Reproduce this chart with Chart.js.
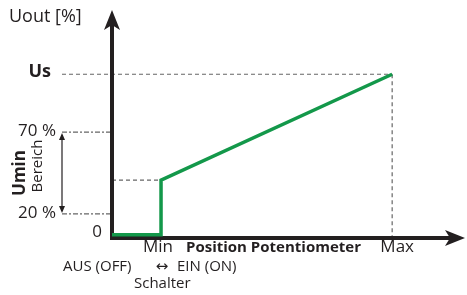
<!DOCTYPE html>
<html>
<head>
<meta charset="utf-8">
<script src="https://cdn.jsdelivr.net/npm/chart.js@4"></script>
<style>
  html, body { margin: 0; padding: 0; background: #fff; }
  #wrap { width: 467px; height: 295px; }
</style>
</head>
<body>
<div id="wrap"><canvas id="potChart" width="467" height="295"></canvas></div>
<script>
// positions on the potentiometer axis (schematic units)
const posNames = ['Min', 'Max'];
const posValues = [17.5, 100];

// output curve Uout (schematic units, Us = 100)
const curveX = [0, 17.5, 17.5, 100];
const curveY = [0, 0, 34, 100];

// y reference levels and their labels
const levelValues = [0, 13, 64, 100];
const levelLabels = ['0', '20 %', '70 %', 'Us'];

const FONT = '"Open Sans", "DejaVu Sans", sans-serif';
const INK = '#231f20';
const GREEN = '#13984a';
const DASH = '#666666';

function arrowHead(ctx, x, y, dir, len, half) {
    // dir: 'up' or 'right', stealth style arrow
    ctx.beginPath();
    if (dir === 'up') {
        ctx.moveTo(x, y);
        ctx.lineTo(x - half, y + len);
        ctx.lineTo(x, y + len * 0.75);
        ctx.lineTo(x + half, y + len);
    } else {
        ctx.moveTo(x, y);
        ctx.lineTo(x - len, y - half);
        ctx.lineTo(x - len * 0.75, y);
        ctx.lineTo(x - len, y + half);
    }
    ctx.closePath();
    ctx.fill();
}

function dashed(ctx, x1, y1, x2, y2, pattern) {
    ctx.save();
    ctx.strokeStyle = DASH;
    ctx.lineWidth = 1.2;
    ctx.setLineDash(pattern);
    ctx.beginPath();
    ctx.moveTo(x1, y1);
    ctx.lineTo(x2, y2);
    ctx.stroke();
    ctx.restore();
}

function text(ctx, str, x, y, align, font) {
    ctx.font = font;
    ctx.textAlign = align;
    ctx.textBaseline = 'middle';
    ctx.fillText(str, x, y);
}

const diagramPlugin = {
    id: 'diagram',
    beforeDatasetsDraw(chart) {
        const ctx = chart.ctx;
        const xs = chart.scales.x, ys = chart.scales.y;
        const area = chart.chartArea;
        const x0 = xs.getPixelForValue(0);
        const xMin = xs.getPixelForValue(posValues[0]);
        const xMax = xs.getPixelForValue(posValues[1]);
        const yUs = ys.getPixelForValue(levelValues[3]);
        const y70 = ys.getPixelForValue(levelValues[2]);
        const y20 = ys.getPixelForValue(levelValues[1]);
        const yStep = ys.getPixelForValue(curveY[2]);

        // guide lines
        dashed(ctx, 62, yUs, xMax, yUs, [4, 3]);
        dashed(ctx, xMax, yUs, xMax, area.bottom, [4, 3]);
        dashed(ctx, x0, yStep, xMin, yStep, [4, 3]);
        dashed(ctx, 62, y70, x0, y70, [5, 2, 2, 2]);
        dashed(ctx, 62, y20, x0, y20, [5, 2, 2, 2]);

        // axes
        ctx.save();
        ctx.strokeStyle = INK;
        ctx.fillStyle = INK;
        ctx.lineWidth = 4;
        ctx.beginPath();
        ctx.moveTo(x0, area.bottom);
        ctx.lineTo(x0, area.top + 14);
        ctx.moveTo(x0 - 2, area.bottom);
        ctx.lineTo(area.right - 14, area.bottom);
        ctx.stroke();
        arrowHead(ctx, x0, area.top, 'up', 20, 8);
        arrowHead(ctx, area.right, area.bottom, 'right', 20, 8);

        // Umin range double arrow
        ctx.lineWidth = 1.2;
        ctx.beginPath();
        ctx.moveTo(62, y70 + 3);
        ctx.lineTo(62, y20 - 3);
        ctx.stroke();
        ctx.beginPath();
        ctx.moveTo(62, y70 + 1); ctx.lineTo(59, y70 + 8); ctx.lineTo(65, y70 + 8); ctx.closePath();
        ctx.moveTo(62, y20 - 1); ctx.lineTo(59, y20 - 8); ctx.lineTo(65, y20 - 8); ctx.closePath();
        ctx.fill();
        ctx.restore();
    },
    afterDatasetsDraw(chart) {
        const ctx = chart.ctx;
        const xs = chart.scales.x, ys = chart.scales.y;
        const xMin = xs.getPixelForValue(posValues[0]);
        const xMax = xs.getPixelForValue(posValues[1]);
        ctx.save();
        ctx.fillStyle = INK;
        const reg = '17px ' + FONT;
        const bold = 'bold 18px ' + FONT;

        text(ctx, 'Uout [%]', 9, 17, 'left', '18px ' + FONT);
        text(ctx, levelLabels[3], 51, ys.getPixelForValue(levelValues[3]) - 2, 'right', bold);
        text(ctx, levelLabels[2], 56, ys.getPixelForValue(levelValues[2]) - 1, 'right', reg);
        text(ctx, levelLabels[1], 56, ys.getPixelForValue(levelValues[1]) - 1, 'right', reg);
        text(ctx, levelLabels[0], 102, ys.getPixelForValue(levelValues[0]) - 3, 'right', reg);

        // rotated Umin / Bereich
        ctx.save();
        ctx.translate(20, 173);
        ctx.rotate(-Math.PI / 2);
        text(ctx, 'Umin', 0, 0, 'center', 'bold 17px ' + FONT);
        ctx.restore();
        ctx.save();
        ctx.translate(38, 166);
        ctx.rotate(-Math.PI / 2);
        text(ctx, 'Bereich', 0, 0, 'center', '15px ' + FONT);
        ctx.restore();

        // x axis labels
        text(ctx, posNames[0], xMin - 3, 247, 'center', reg);
        text(ctx, posNames[1], xMax + 5, 247, 'center', reg);
        text(ctx, 'Position Potentiometer', 186, 248, 'left', 'bold 15px ' + FONT);

        text(ctx, 'AUS (OFF)', 63, 267, 'left', '15px ' + FONT);
        text(ctx, '\u2194', 162, 267, 'center', '15px "DejaVu Sans", sans-serif');
        text(ctx, 'EIN (ON)', 177, 267, 'left', '15px ' + FONT);
        text(ctx, 'Schalter', 134, 284, 'left', '15px ' + FONT);
        ctx.restore();
    }
};

const points = curveX.map((x, i) => ({ x: x, y: curveY[i] }));

new Chart(document.getElementById('potChart').getContext('2d'), {
    type: 'line',
    data: {
        datasets: [{
            label: 'Uout',
            data: points,
            borderColor: GREEN,
            borderWidth: 3.5,
            pointRadius: 0,
            tension: 0,
            fill: false
        }]
    },
    options: {
        responsive: false,
        animation: false,
        layout: { padding: { left: 112, right: 2, top: 10, bottom: 57 } },
        plugins: { legend: { display: false }, tooltip: { enabled: false } },
        scales: {
            x: { type: 'linear', min: 0, max: 126, display: false },
            y: { type: 'linear', min: -2, max: 140, display: false }
        }
    },
    plugins: [diagramPlugin]
});
</script>
</body>
</html>
